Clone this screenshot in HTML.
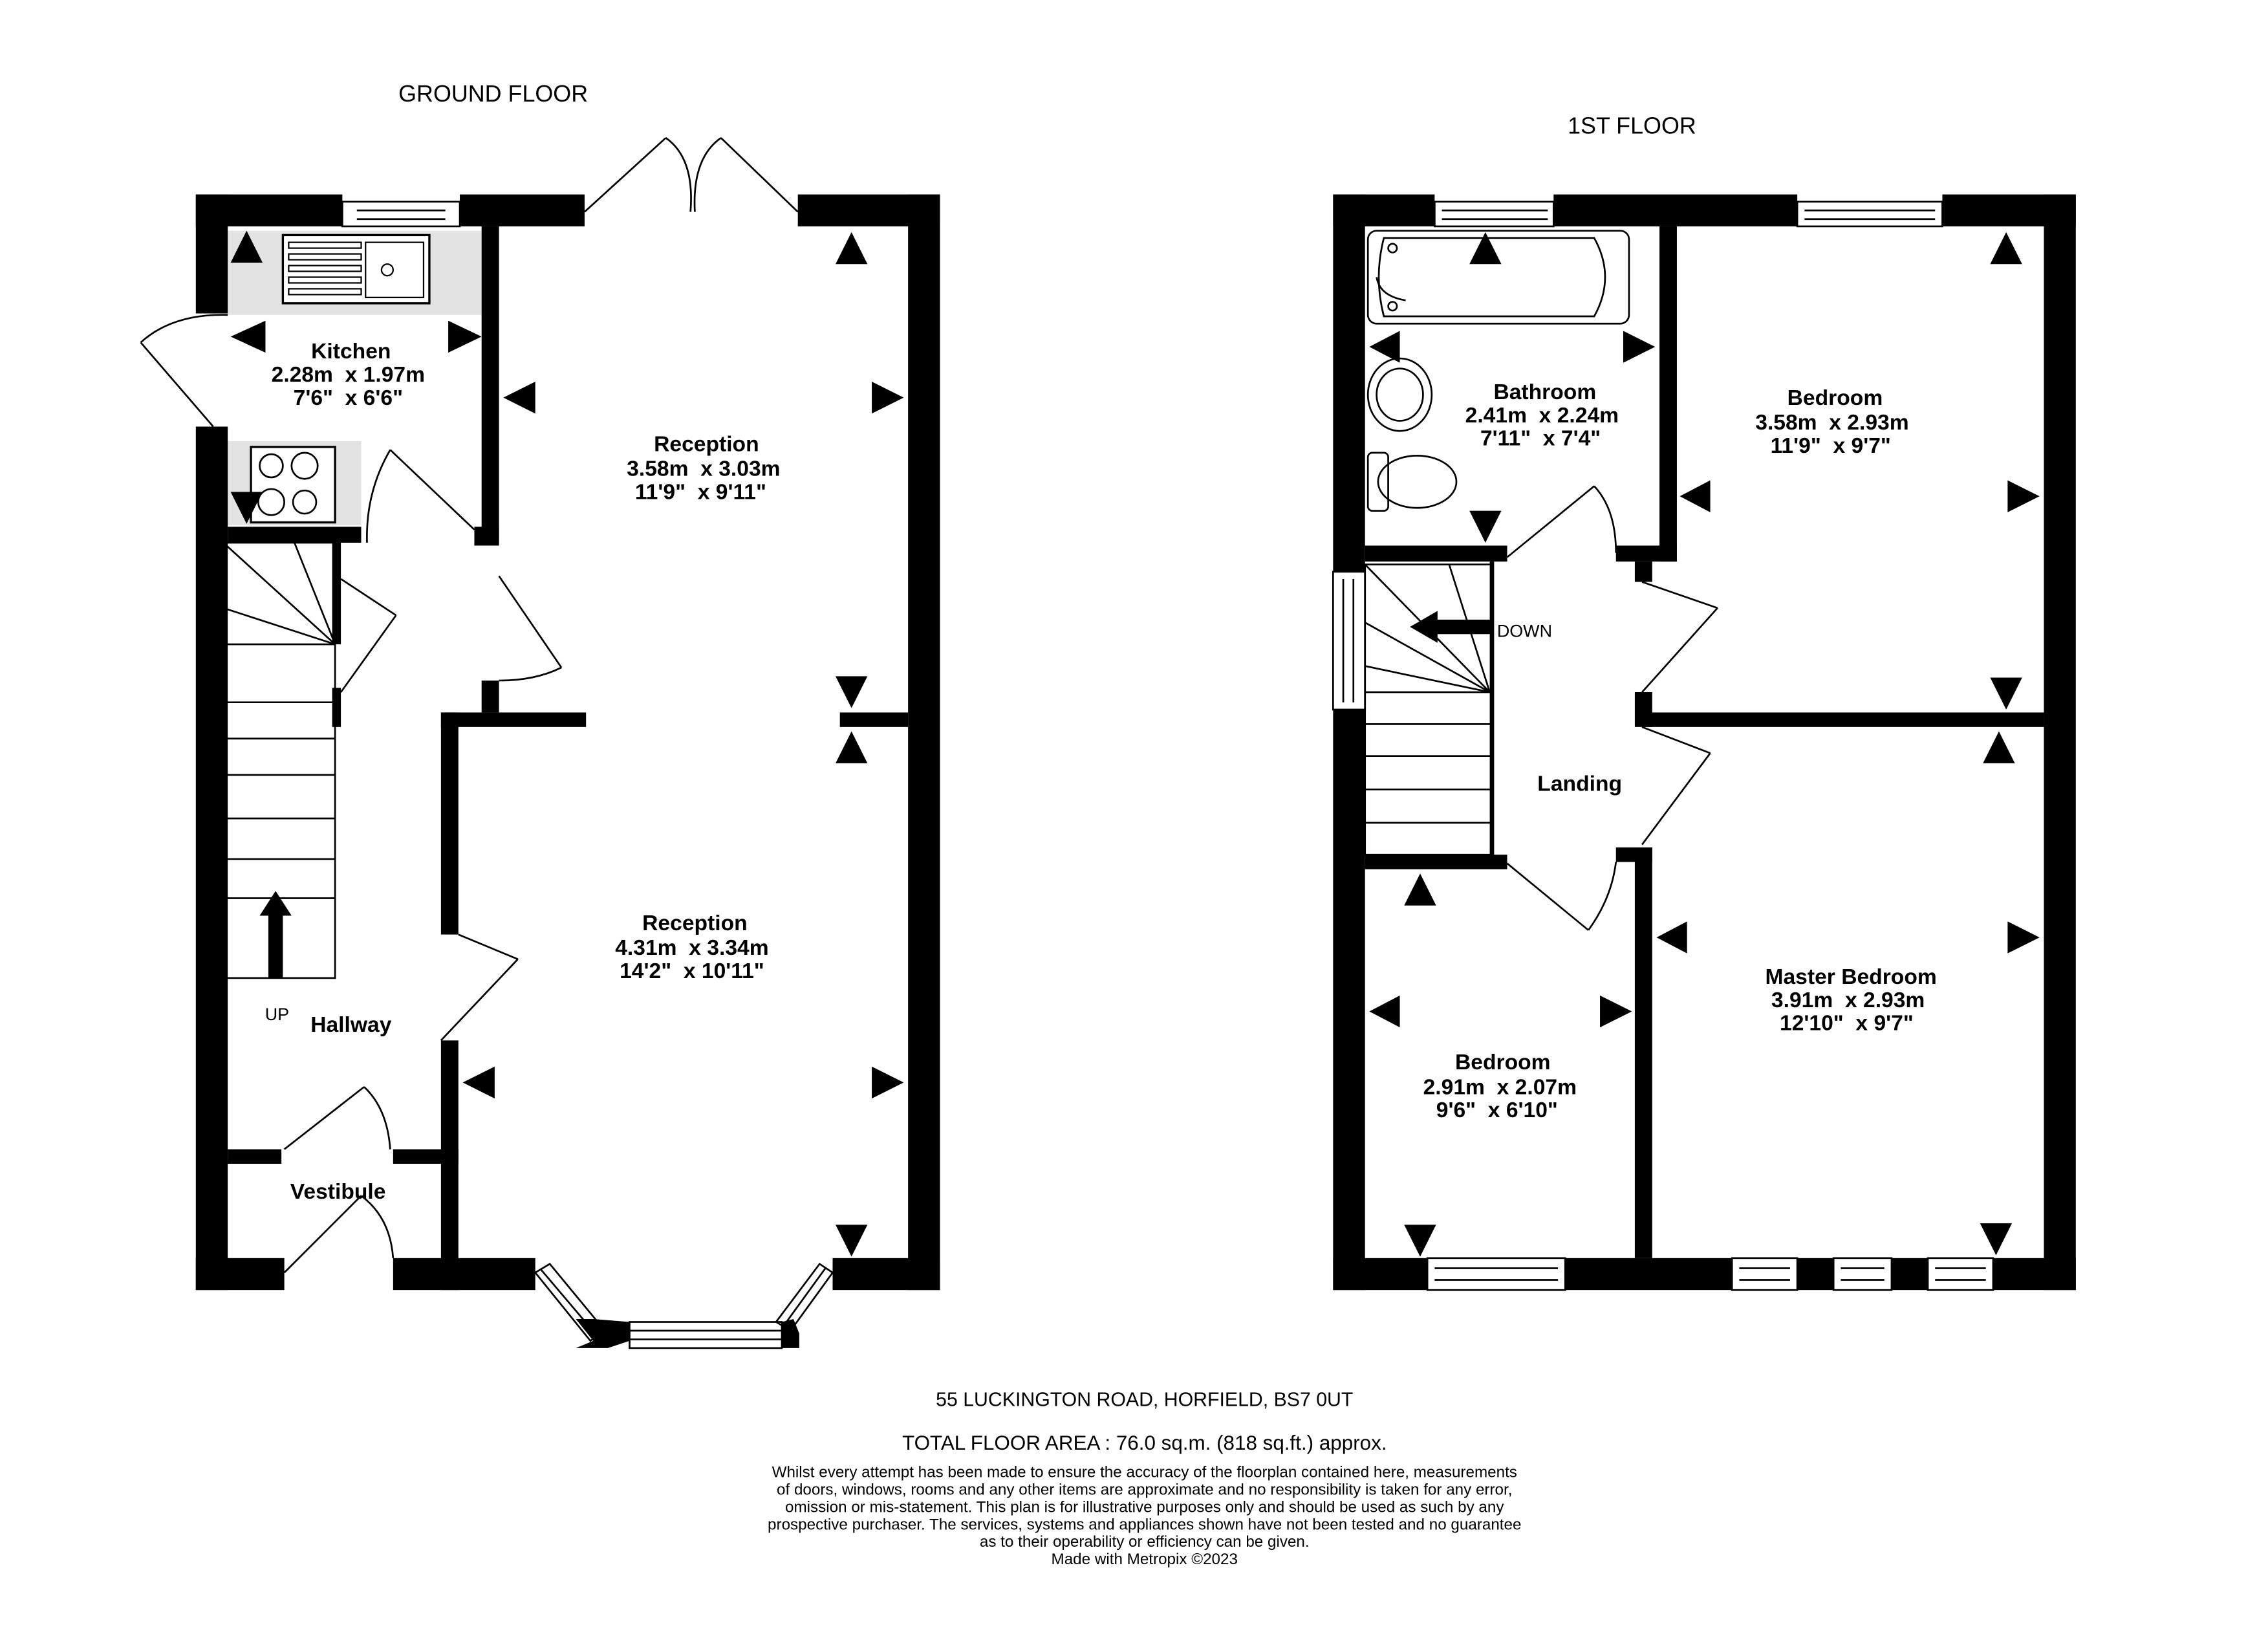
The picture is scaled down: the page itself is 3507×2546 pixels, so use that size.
<!DOCTYPE html>
<html><head><meta charset="utf-8"><style>
html,body{margin:0;padding:0;background:#fff;}
svg{display:block;}
text{font-family:"Liberation Sans",sans-serif;fill:#000;white-space:pre;}
.b{font-weight:bold;font-size:15px;}
</style></head><body>
<svg width="3507" height="2546" viewBox="1 1 1563.5 1135" preserveAspectRatio="none" xmlns="http://www.w3.org/2000/svg">
<rect x="0" y="0" width="1570" height="1140" fill="#fff"/>
<text x="341" y="71" font-size="16" text-anchor="middle">GROUND FLOOR</text>
<rect x="158" y="160" width="175" height="58" fill="#e3e3e3"/>
<rect x="158" y="305" width="92" height="58" fill="#e3e3e3"/>
<rect x="196" y="163" width="101" height="47" fill="#fff" stroke="#000" stroke-width="1.5"/>
<rect x="253" y="168" width="40" height="38" fill="none" stroke="#000"/>
<g stroke="#000" fill="none"><rect x="200" y="168" width="50" height="4"/><rect x="200" y="176" width="50" height="4"/><rect x="200" y="184" width="50" height="4"/><rect x="200" y="192" width="50" height="4"/><rect x="200" y="200" width="50" height="4"/></g>
<circle cx="268" cy="187" r="4" fill="none" stroke="#000"/>
<rect x="174" y="309" width="58" height="52" fill="#fff" stroke="#000" stroke-width="1.5"/>
<g fill="none" stroke="#000" stroke-width="1.2"><circle cx="188" cy="322" r="8"/><circle cx="211" cy="322" r="9"/><circle cx="188" cy="347" r="9"/><circle cx="211" cy="347" r="8"/></g>
<g fill="#000">
<rect x="136" y="135" width="101" height="22"/>
<rect x="136" y="135" width="22" height="82"/>
<rect x="318" y="135" width="86" height="22"/>
<rect x="551" y="135" width="98" height="22"/>
<rect x="627" y="135" width="22" height="755"/>
<rect x="136" y="295" width="22" height="595"/>
<rect x="136" y="868" width="61" height="22"/>
<rect x="272" y="868" width="98" height="22"/>
<rect x="575" y="868" width="74" height="22"/>
<rect x="333" y="157" width="12" height="218"/>
<rect x="328" y="364" width="17" height="13"/>
<rect x="333" y="470" width="12" height="22"/>
<rect x="158" y="364" width="92" height="11"/>
<rect x="230" y="375" width="6" height="70"/>
<rect x="230" y="475" width="6" height="27"/>
<rect x="305" y="492" width="100" height="10"/>
<rect x="580" y="492" width="47" height="10"/>
<rect x="305" y="492" width="12" height="153"/>
<rect x="305" y="718" width="12" height="172"/>
<rect x="158" y="793" width="37" height="10"/>
<rect x="272" y="793" width="45" height="10"/>
<polygon points="398,910 410,925 398,930 420,930 435,925 435,912 410,910"/>
<polygon points="540,912 540,930 552,930 552,920 548,910"/>
</g>
<g stroke="#000" fill="none" stroke-width="1.2"><rect x="237" y="140" width="81" height="17"/><line x1="247" y1="146" x2="308" y2="146"/><line x1="247" y1="152" x2="308" y2="152"/></g>
<g stroke="#000" fill="none" stroke-width="1.2">
<line x1="404" y1="147" x2="460" y2="96"/><path d="M460,96 Q480,110 477,147"/>
<line x1="551" y1="147" x2="498" y2="96"/><path d="M498,96 Q478,110 480,147"/>
<line x1="148" y1="295" x2="98" y2="237"/><path d="M98,237 Q120,217 158,218"/>
<line x1="328" y1="366" x2="270" y2="311"/><path d="M270,311 Q253,340 254,375"/>
<line x1="236" y1="400" x2="274" y2="425"/><line x1="236" y1="478" x2="274" y2="425"/>
<line x1="345" y1="398" x2="388" y2="461"/><path d="M388,461 Q370,470 345,470"/>
<line x1="317" y1="645" x2="358" y2="662"/><line x1="305" y1="718" x2="358" y2="662"/>
<line x1="197" y1="793" x2="252" y2="750"/><path d="M252,750 Q268,765 270,793"/>
<line x1="197" y1="878" x2="250" y2="825"/><path d="M250,825 Q270,840 272,868"/>
<rect x="155" y="375" width="77" height="300"/>
<line x1="155" y1="375" x2="232" y2="445"/><line x1="204" y1="375" x2="232" y2="445"/><line x1="155" y1="420" x2="232" y2="445"/>
<line x1="155" y1="445" x2="232" y2="445"/><line x1="155" y1="485" x2="232" y2="485"/><line x1="155" y1="510" x2="232" y2="510"/><line x1="155" y1="535" x2="232" y2="535"/><line x1="155" y1="565" x2="232" y2="565"/><line x1="155" y1="593" x2="232" y2="593"/><line x1="155" y1="620" x2="232" y2="620"/>
<polygon points="370,878 380,872 418,918 408,925"/><line x1="374" y1="876" x2="413" y2="922"/>
<rect x="435" y="912" width="105" height="18"/><line x1="435" y1="918" x2="540" y2="918"/><line x1="435" y1="924" x2="540" y2="924"/>
<polygon points="575,878 566,872 536,912 546,918"/><line x1="570" y1="875" x2="541" y2="915"/>
</g>
<rect x="186" y="630" width="10" height="45" fill="#000"/><polygon points="180,632 202,632 191,615" fill="#000"/>
<g fill="#000">
<polygon points="160,182 182,182 171,160"/>
<polygon points="160,340 182,340 171,362"/>
<polygon points="160,233 184,222 184,244"/>
<polygon points="333,233 310,222 310,244"/>
<polygon points="348,275 370,264 370,286"/>
<polygon points="624,275 602,264 602,286"/>
<polygon points="577,183 599,183 588,161"/>
<polygon points="577,467 599,467 588,489"/>
<polygon points="577,527 599,527 588,505"/>
<polygon points="320,747 342,736 342,758"/>
<polygon points="624,747 602,736 602,758"/>
<polygon points="577,845 599,845 588,867"/>
</g>
<text class="b" x="243" y="248" text-anchor="middle">Kitchen</text>
<text class="b" x="241" y="264" text-anchor="middle">2.28m  x 1.97m</text>
<text class="b" x="241" y="280" text-anchor="middle">7'6"  x 6'6"</text>
<text class="b" x="488" y="312" text-anchor="middle">Reception</text>
<text class="b" x="486" y="329" text-anchor="middle">3.58m  x 3.03m</text>
<text class="b" x="484" y="345" text-anchor="middle">11'9"  x 9'11"</text>
<text class="b" x="480" y="642" text-anchor="middle">Reception</text>
<text class="b" x="478" y="659" text-anchor="middle">4.31m  x 3.34m</text>
<text class="b" x="478" y="675" text-anchor="middle">14'2"  x 10'11"</text>
<text x="192" y="704" font-size="12" text-anchor="middle">UP</text>
<text class="b" x="243" y="712" text-anchor="middle">Hallway</text>
<text class="b" x="234" y="827" text-anchor="middle">Vestibule</text>
<text x="1126" y="93" font-size="16" text-anchor="middle">1ST FLOOR</text>
<g fill="#000">
<rect x="920" y="135" width="70" height="22"/>
<rect x="1072" y="135" width="168" height="22"/>
<rect x="1340" y="135" width="92" height="22"/>
<rect x="1410" y="135" width="22" height="755"/>
<rect x="920" y="135" width="22" height="260"/>
<rect x="920" y="490" width="22" height="400"/>
<rect x="920" y="868" width="65" height="22"/>
<rect x="1080" y="868" width="115" height="22"/>
<rect x="1240" y="868" width="25" height="22"/>
<rect x="1305" y="868" width="25" height="22"/>
<rect x="1375" y="868" width="57" height="22"/>
<rect x="1145" y="157" width="12" height="231"/>
<rect x="942" y="377" width="98" height="11"/>
<rect x="1115" y="377" width="42" height="11"/>
<rect x="1128" y="388" width="12" height="14"/>
<rect x="1128" y="478" width="12" height="24"/>
<rect x="1133" y="492" width="277" height="10"/>
<rect x="1128" y="585" width="12" height="283"/>
<rect x="1115" y="585" width="25" height="10"/>
<rect x="942" y="590" width="98" height="10"/>
<rect x="1028" y="388" width="3" height="205"/>
</g>
<g stroke="#000" fill="none" stroke-width="1.2">
<rect x="990" y="140" width="82" height="17"/><line x1="995" y1="146" x2="1068" y2="146"/><line x1="995" y1="152" x2="1068" y2="152"/>
<rect x="1240" y="140" width="100" height="17"/><line x1="1245" y1="146" x2="1335" y2="146"/><line x1="1245" y1="152" x2="1335" y2="152"/>
<rect x="920" y="395" width="22" height="95"/><line x1="927" y1="400" x2="927" y2="485"/><line x1="934" y1="400" x2="934" y2="485"/>
<rect x="985" y="868" width="95" height="22"/><line x1="990" y1="875" x2="1075" y2="875"/><line x1="990" y1="883" x2="1075" y2="883"/>
<rect x="1195" y="868" width="45" height="22"/><line x1="1200" y1="875" x2="1235" y2="875"/><line x1="1200" y1="883" x2="1235" y2="883"/>
<rect x="1265" y="868" width="40" height="22"/><line x1="1270" y1="875" x2="1300" y2="875"/><line x1="1270" y1="883" x2="1300" y2="883"/>
<rect x="1330" y="868" width="45" height="22"/><line x1="1335" y1="875" x2="1370" y2="875"/><line x1="1335" y1="883" x2="1370" y2="883"/>
<rect x="944" y="160" width="180" height="64" rx="6"/>
<path d="M955,165 H1100 Q1115,192 1100,219 H955 Q948,192 955,165 Z"/>
<circle cx="961" cy="172" r="3"/><circle cx="961" cy="212" r="3"/>
<path d="M950,192 Q952,205 970,208"/>
<ellipse cx="966" cy="273" rx="22" ry="25"/><ellipse cx="966" cy="273" rx="16" ry="18"/>
<rect x="944" y="313" width="14" height="40" rx="3"/><ellipse cx="978" cy="333" rx="27" ry="18"/>
<rect x="942" y="390" width="88" height="200"/>
<line x1="942" y1="390" x2="1028" y2="478"/><line x1="1000" y1="390" x2="1028" y2="478"/><line x1="942" y1="430" x2="1028" y2="478"/><line x1="942" y1="460" x2="1028" y2="478"/>
<line x1="942" y1="478" x2="1030" y2="478"/><line x1="942" y1="500" x2="1030" y2="500"/><line x1="942" y1="522" x2="1030" y2="522"/><line x1="942" y1="545" x2="1030" y2="545"/><line x1="942" y1="568" x2="1030" y2="568"/>
<line x1="1040" y1="385" x2="1100" y2="336"/><path d="M1100,336 Q1115,352 1115,382"/>
<line x1="1133" y1="402" x2="1185" y2="420"/><line x1="1133" y1="478" x2="1185" y2="420"/>
<line x1="1133" y1="502" x2="1180" y2="520"/><line x1="1133" y1="583" x2="1180" y2="520"/>
<line x1="1040" y1="596" x2="1096" y2="642"/><path d="M1096,642 Q1112,620 1115,595"/>
</g>
<rect x="990" y="428" width="40" height="10" fill="#000"/><polygon points="992,422 992,444 973,433" fill="#000"/>
<text x="1033" y="440" font-size="12">DOWN</text>
<g fill="#000">
<polygon points="1014,183 1036,183 1025,161"/>
<polygon points="1014,353 1036,353 1025,375"/>
<polygon points="945,240 966,229 966,251"/>
<polygon points="1142,240 1120,229 1120,251"/>
<polygon points="1373,183 1395,183 1384,161"/>
<polygon points="1159,343 1180,332 1180,354"/>
<polygon points="1407,343 1385,332 1385,354"/>
<polygon points="1373,468 1395,468 1384,490"/>
<polygon points="1368,527 1390,527 1379,505"/>
<polygon points="1143,647 1164,636 1164,658"/>
<polygon points="1407,647 1385,636 1385,658"/>
<polygon points="1366,844 1388,844 1377,866"/>
<polygon points="969,625 991,625 980,603"/>
<polygon points="945,698 966,687 966,709"/>
<polygon points="1126,698 1104,687 1104,709"/>
<polygon points="969,845 991,845 980,867"/>
</g>
<text class="b" x="1066" y="276" text-anchor="middle">Bathroom</text>
<text class="b" x="1064" y="292" text-anchor="middle">2.41m  x 2.24m</text>
<text class="b" x="1063" y="308" text-anchor="middle">7'11"  x 7'4"</text>
<text class="b" x="1266" y="280" text-anchor="middle">Bedroom</text>
<text class="b" x="1264" y="297" text-anchor="middle">3.58m  x 2.93m</text>
<text class="b" x="1263" y="313" text-anchor="middle">11'9"  x 9'7"</text>
<text class="b" x="1090" y="546" text-anchor="middle">Landing</text>
<text class="b" x="1277" y="679" text-anchor="middle">Master Bedroom</text>
<text class="b" x="1275" y="695" text-anchor="middle">3.91m  x 2.93m</text>
<text class="b" x="1274" y="711" text-anchor="middle">12'10"  x 9'7"</text>
<text class="b" x="1037" y="738" text-anchor="middle">Bedroom</text>
<text class="b" x="1035" y="755" text-anchor="middle">2.91m  x 2.07m</text>
<text class="b" x="1033" y="771" text-anchor="middle">9'6"  x 6'10"</text>
<text x="790" y="970" font-size="13.5" text-anchor="middle">55 LUCKINGTON ROAD, HORFIELD, BS7 0UT</text>
<text x="790" y="1000" font-size="14" text-anchor="middle">TOTAL FLOOR AREA : 76.0 sq.m. (818 sq.ft.) approx.</text>
<g font-size="10.8" text-anchor="middle">
<text x="790" y="1019">Whilst every attempt has been made to ensure the accuracy of the floorplan contained here, measurements</text>
<text x="790" y="1031">of doors, windows, rooms and any other items are approximate and no responsibility is taken for any error,</text>
<text x="790" y="1043">omission or mis-statement. This plan is for illustrative purposes only and should be used as such by any</text>
<text x="790" y="1055">prospective purchaser. The services, systems and appliances shown have not been tested and no guarantee</text>
<text x="790" y="1067">as to their operability or efficiency can be given.</text>
<text x="790" y="1079">Made with Metropix ©2023</text>
</g>
</svg>
</body></html>
